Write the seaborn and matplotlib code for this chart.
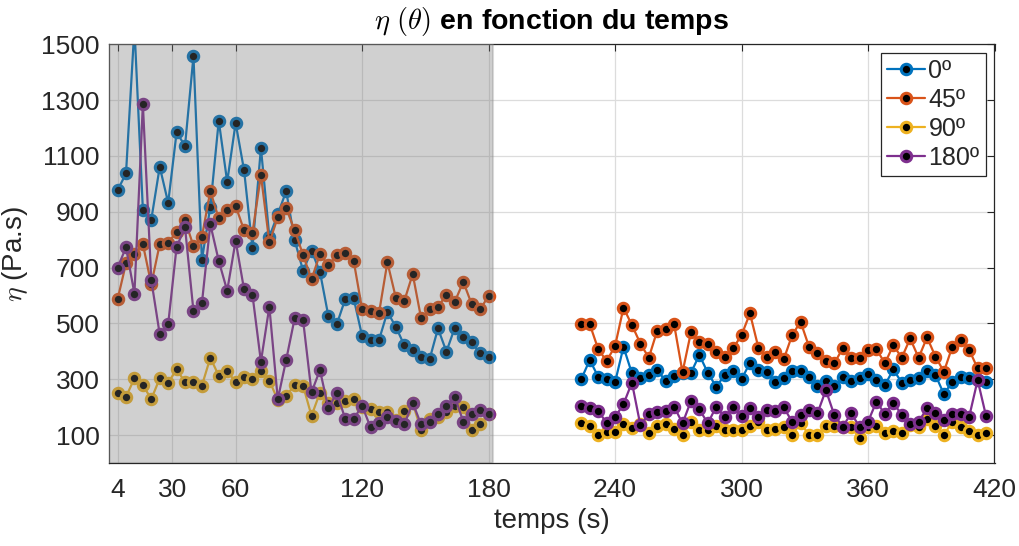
import matplotlib
matplotlib.use("Agg")
import matplotlib.pyplot as plt
import seaborn as sns
import numpy as np

# ---------------- data ----------------
t_a = [4, 8, 12, 16, 20, 24, 28, 32, 36, 40, 44, 48, 52, 56, 60, 64, 68, 72, 76, 80,
       84, 88, 92, 96, 100, 104, 108, 112, 116, 120, 124, 128, 132, 136, 140, 144,
       148, 152, 156, 160, 164, 168, 172, 176, 180]
t_b = [224, 228, 232, 236, 240, 244, 248, 252, 256, 260, 264, 268, 272, 276, 280,
       284, 288, 292, 296, 300, 304, 308, 312, 316, 320, 324, 328, 332, 336, 340,
       344, 348, 352, 356, 360, 364, 368, 372, 376, 380, 384, 388, 392, 396, 400,
       404, 408, 412, 416]

eta0_a = [977, 1037, 1560, 908, 872, 1061, 932, 1184, 1136, 1457, 727, 918, 1226, 1007,
          1218, 1049, 769, 1129, 810, 891, 974, 798, 689, 760, 685, 526, 497, 587, 590,
          455, 440, 440, 541, 488, 422, 405, 381, 371, 482, 399, 485, 452, 432, 393, 378]
eta45_a = [586, 715, 748, 784, 640, 784, 789, 828, 870, 777, 810, 974, 876, 906, 921,
           834, 825, 1031, 790, 880, 912, 834, 745, 658, 748, 709, 745, 753, 724, 551,
           544, 536, 719, 592, 580, 677, 518, 550, 560, 602, 578, 649, 569, 550, 599]
eta90_a = [250, 237, 303, 279, 229, 303, 288, 335, 290, 290, 277, 377, 313, 329, 290,
           309, 301, 329, 295, 226, 241, 279, 277, 169, 252, 216, 214, 222, 229, 202,
           193, 184, 184, 154, 187, 214, 118, 158, 166, 184, 204, 202, 118, 140, 174]
eta180_a = [700, 772, 607, 1285, 655, 461, 497, 774, 844, 544, 572, 855, 724, 617, 796,
            622, 602, 363, 560, 228, 370, 518, 512, 253, 333, 196, 252, 158, 158, 205,
            128, 144, 166, 152, 138, 216, 138, 148, 174, 205, 237, 148, 174, 190, 174]

eta0_b = [301, 369, 309, 300, 289, 416, 321, 303, 315, 333, 294, 313, 321, 323, 387,
          323, 273, 315, 329, 300, 359, 333, 325, 290, 303, 330, 330, 309, 276, 294,
          276, 307, 294, 303, 318, 297, 279, 335, 288, 297, 305, 330, 315, 247, 291,
          309, 305, 297, 291]
eta45_b = [497, 497, 408, 365, 419, 556, 494, 428, 377, 474, 479, 497, 325, 468, 434,
           426, 399, 381, 411, 458, 536, 413, 381, 399, 371, 458, 506, 417, 395, 365,
           357, 411, 375, 375, 405, 408, 357, 422, 377, 446, 377, 450, 381, 327, 417,
           440, 405, 339, 339]
eta90_b = [144, 132, 100, 112, 110, 140, 126, 140, 109, 132, 140, 121, 100, 148, 118,
           118, 132, 118, 118, 118, 132, 148, 118, 121, 130, 100, 144, 100, 100, 132,
           132, 130, 130, 88, 130, 132, 106, 115, 106, 136, 130, 156, 132, 100, 148,
           130, 115, 100, 106]
eta180_b = [204, 196, 186, 144, 164, 211, 288, 136, 174, 181, 187, 202, 142, 222, 192,
            142, 202, 164, 202, 168, 198, 166, 190, 187, 199, 148, 172, 190, 178, 261,
            172, 130, 178, 130, 148, 220, 175, 216, 172, 140, 148, 196, 180, 154, 175,
            175, 166, 297, 168]

labels = ["0º", "45º", "90º", "180º"]
colors = ["#0072BD", "#D95319", "#EDB120", "#7E2F8E"]
xticks = [4, 30, 60, 120, 180, 240, 300, 360, 420]
yticks = [100, 300, 500, 700, 900, 1100, 1300, 1500]

# ---------------- style ----------------
sns.set_theme(style="whitegrid")
plt.rcParams["font.family"] = ["Liberation Sans", "DejaVu Sans"]
plt.rcParams["mathtext.fontset"] = "cm"

fig = plt.figure(figsize=(10.2, 5.46), dpi=100)
ax = fig.add_axes([0.107, 0.152, 0.868, 0.767])

series_a = [eta0_a, eta45_a, eta90_a, eta180_a]
series_b = [eta0_b, eta45_b, eta90_b, eta180_b]

for ya, yb, lab, c in zip(series_a, series_b, labels, colors):
    kw = dict(color=c, marker="o", markersize=7.5, markerfacecolor="black",
              markeredgecolor=c, markeredgewidth=2.2, linewidth=1.6, zorder=2)
    sns.lineplot(x=t_a, y=ya, ax=ax, label=lab, **kw)
    sns.lineplot(x=t_b, y=yb, ax=ax, **kw)

# shaded region (drawn over the data, as in the reference)
ax.axvspan(0, 182, facecolor="0.45", edgecolor="0.55", linewidth=1.5,
           alpha=0.33, zorder=3)

ax.set_xlim(0, 420)
ax.set_ylim(0, 1500)
ax.set_xticks(xticks)
ax.set_yticks(yticks)
ax.tick_params(axis="both", labelsize=19, colors="#262626", direction="in",
               length=5, width=0.8, top=True, right=True)
ax.tick_params(axis="x", pad=11)
ax.tick_params(axis="y", pad=7)
ax.grid(True, color="#dcdcdc", linewidth=0.9, zorder=0)
for s in ax.spines.values():
    s.set_color("#262626")
    s.set_linewidth(0.9)
    s.set_visible(True)

ax.set_xlabel("temps (s)", fontsize=20, color="#262626", labelpad=4)
ax.set_ylabel(r"$\eta$ (Pa.s)", fontsize=20, color="#262626", labelpad=8)
ax.set_title(r"$\eta\ (\theta)$ en fonction du temps", fontsize=20.5,
             fontweight="bold", color="black", pad=11)

leg = ax.legend(loc="upper right", fontsize=18, frameon=True, fancybox=False,
                edgecolor="#262626", framealpha=1, handlelength=1.5,
                handletextpad=0.15, borderpad=0.25, labelspacing=0.2,
                borderaxespad=0.35)
leg.get_frame().set_linewidth(0.9)
leg.set_zorder(5)

fig.savefig("out.png", dpi=100)
